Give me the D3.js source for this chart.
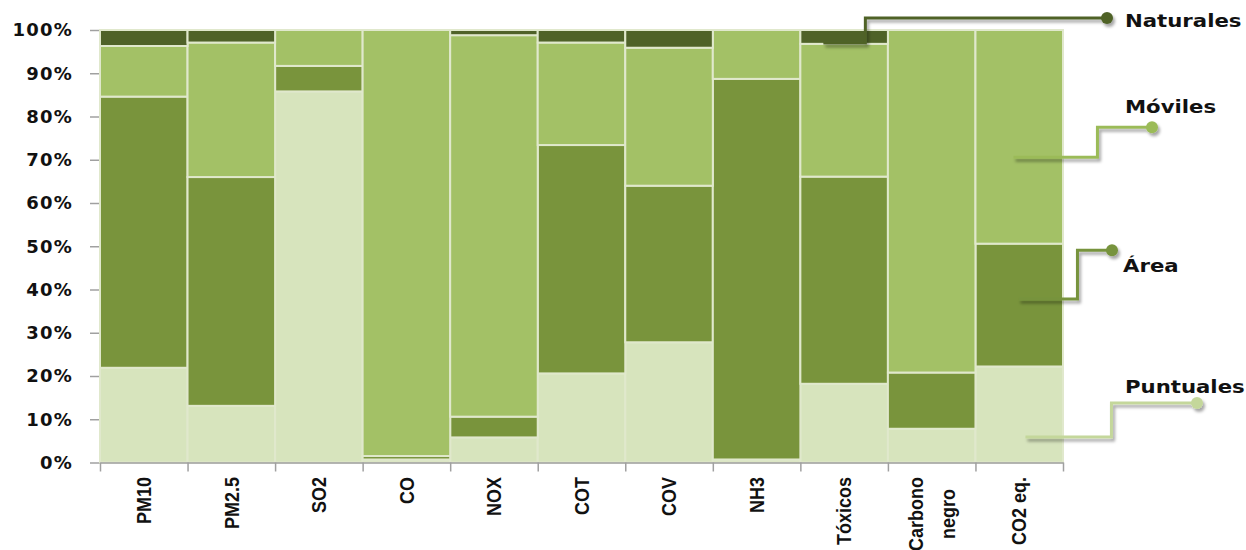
<!DOCTYPE html>
<html>
<head>
<meta charset="utf-8">
<script src="https://cdn.jsdelivr.net/npm/d3@7"></script>
<style>
    body { margin: 0; background: #fff; }
    .yAxis text { font-family: "DejaVu Sans", sans-serif; font-weight: bold; font-size: 18px; fill: #111; letter-spacing: 1.2px; }
    .yAxis line, .yAxis path, .xAxis line, .xAxis path { stroke: #a0a0a0; stroke-width: 1.5; }
    .catLabel { font-family: "Liberation Sans", Arial, sans-serif; font-weight: bold; font-size: 18px; fill: #111; }
    .calloutLabel { font-family: "DejaVu Sans", sans-serif; font-weight: bold; font-size: 18px; fill: #111; }
</style>
</head>
<body>
<script>
(function () {

    //categories and the four sources (percent of each pollutant)
    var categories = ["PM10", "PM2.5", "SO2", "CO", "NOX", "COT", "COV", "NH3", "Tóxicos", "Carbono negro", "CO2 eq."];
    var seriesNames = ["Puntuales", "Área", "Móviles", "Naturales"];
    var puntuales = [21.9, 13.1, 85.8, 0.7, 5.8, 20.6, 27.8, 0.7, 18.2, 7.8, 22.2];
    var area = [62.7, 52.9, 5.9, 0.8, 4.8, 52.8, 36.2, 88.0, 47.9, 13.0, 28.4];
    var moviles = [11.7, 31.1, 8.3, 98.5, 88.2, 23.7, 31.9, 11.3, 30.7, 79.2, 49.4];
    var naturales = [3.7, 2.9, 0, 0, 1.2, 2.9, 4.1, 0, 3.2, 0, 0];
    var yTicks = [0, 10, 20, 30, 40, 50, 60, 70, 80, 90, 100];

    var colors = {
        "Puntuales": "#d7e4bd",
        "Área": "#79943c",
        "Móviles": "#a3c166",
        "Naturales": "#4f6228"
    };

    var width = 1246,
        height = 550;

    //build table rows for d3.stack
    var rows = categories.map(function (c, i) {
        return { cat: c, "Puntuales": puntuales[i], "Área": area[i], "Móviles": moviles[i], "Naturales": naturales[i] };
    });

    var svg = d3.select("body")
        .append("svg")
        .attr("width", width)
        .attr("height", height);

    //shadow for the callout lines
    var filter = svg.append("defs").append("filter")
        .attr("id", "shadow")
        .attr("x", "-10%").attr("y", "-50%")
        .attr("width", "130%").attr("height", "250%");
    filter.append("feDropShadow")
        .attr("dx", 2).attr("dy", 3)
        .attr("stdDeviation", 1.5)
        .attr("flood-color", "#000")
        .attr("flood-opacity", 0.35);

    var x = d3.scaleBand()
        .domain(categories)
        .range([100, 1063])
        .padding(0);

    var y = d3.scaleLinear()
        .domain([0, 100])
        .range([462.5, 30]);

    //y axis
    svg.append("g")
        .attr("class", "yAxis")
        .attr("transform", "translate(100,0)")
        .call(d3.axisLeft(y)
            .tickValues(yTicks)
            .tickFormat(function (d) { return d + "%"; })
            .tickSize(10)
            .tickSizeOuter(0)
            .tickPadding(17));

    //stacked bars
    var stacked = d3.stack().keys(seriesNames)(rows);

    svg.selectAll(".series")
        .data(stacked)
        .enter()
        .append("g")
        .attr("class", "series")
        .style("fill", function (d) { return colors[d.key]; })
        .selectAll("rect")
        .data(function (d) { return d; })
        .enter()
        .append("rect")
        .filter(function (d) { return d[1] - d[0] > 0; })
        .attr("x", function (d) { return x(d.data.cat); })
        .attr("width", x.bandwidth())
        .attr("y", function (d) { return y(d[1]); })
        .attr("height", function (d) { return y(d[0]) - y(d[1]); })
        .style("stroke", "#e0e8cc")
        .style("stroke-width", 2);

    //x axis with ticks on the category boundaries
    var xEdges = d3.scaleLinear()
        .domain([0, categories.length])
        .range(x.range());

    svg.append("g")
        .attr("class", "xAxis")
        .attr("transform", "translate(0,462.5)")
        .call(d3.axisBottom(xEdges)
            .tickValues(d3.range(categories.length + 1))
            .tickFormat("")
            .tickSize(9)
            .tickSizeOuter(0));

    //rotated category labels (glyphs a little wider, as in the original)
    categories.forEach(function (c) {
        var cx = x(c) + x.bandwidth() / 2;
        var lines = c === "Carbono negro" ? ["Carbono", "negro"] : [c];
        lines.forEach(function (line, j) {
            var shift = (j - (lines.length - 1) / 2) * 32;
            var t = svg.append("text")
                .attr("class", "catLabel")
                .attr("dy", "0.35em");
            if (lines.length > 1) {
                t.attr("transform", "translate(" + (cx + shift) + ",514) rotate(-90) scale(1,1.15)")
                    .attr("text-anchor", "middle");
            } else {
                t.attr("transform", "translate(" + cx + ",477) rotate(-90) scale(1,1.15)")
                    .attr("text-anchor", "end");
            }
            t.text(line);
        });
    });

    //callouts naming each source
    var xTox = x("Tóxicos"),
        xCo2 = x("CO2 eq.");
    var callouts = [
        { name: "Naturales", line: [[xTox + 23, y(97)], [xTox + 65, y(97)], [xTox + 65, 18], [1107, 18]], lx: 1125, ly: 27 },
        { name: "Móviles", line: [[xCo2 + 38, y(70.6)], [xCo2 + 122, y(70.6)], [xCo2 + 122, y(77.5)], [1152, y(77.5)]], lx: 1125, ly: 113 },
        { name: "Área", line: [[xCo2 + 43, y(37.8)], [xCo2 + 102, y(37.8)], [xCo2 + 102, y(49.1)], [1112, y(49.1)]], lx: 1123, ly: 272 },
        { name: "Puntuales", line: [[xCo2 + 50, y(5.9)], [xCo2 + 136, y(5.9)], [xCo2 + 136, y(13.75)], [1197, y(13.75)]], lx: 1125, ly: 393 }
    ];
    var lineColors = { "Naturales": "#4f6228", "Móviles": "#9bbb59", "Área": "#77933c", "Puntuales": "#c4d79b" };

    var lineGen = d3.line();

    callouts.forEach(function (c) {
        var g = svg.append("g").attr("filter", "url(#shadow)");
        g.append("path")
            .attr("d", lineGen(c.line))
            .style("fill", "none")
            .style("stroke", lineColors[c.name])
            .style("stroke-width", 3);
        var end = c.line[c.line.length - 1];
        g.append("circle")
            .attr("cx", end[0])
            .attr("cy", end[1])
            .attr("r", 6)
            .style("fill", lineColors[c.name]);

        svg.append("text")
            .attr("class", "calloutLabel")
            .attr("transform", "translate(" + c.lx + "," + c.ly + ") scale(1.18,1)")
            .text(c.name);
    });
})();
</script>
</body>
</html>
